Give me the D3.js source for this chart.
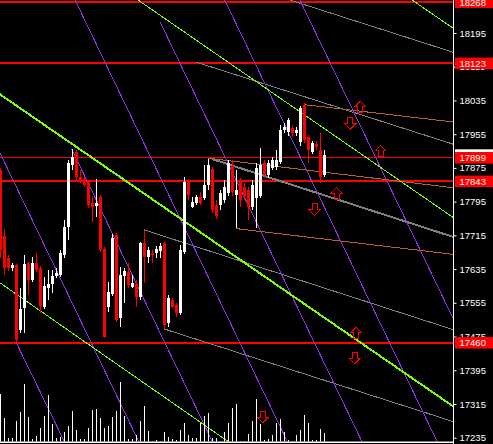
<!DOCTYPE html>
<html><head><meta charset="utf-8">
<script src="https://cdn.jsdelivr.net/npm/d3@7/dist/d3.min.js"></script>
<style>html,body{margin:0;padding:0;background:#000;overflow:hidden}svg{display:block}</style>
</head><body><svg id="c" width="493" height="444"></svg>
<script>
// ---- data (bar index = category) ----
const opens=[17870,17713,17661,17637,17644,17490,17542,17649,17609,17649,
17637,17545,17590,17599,17618,17621,17668,17735,17882,17912,
17853,17848,17841,17792,17784,17806,17682,17545,17576,17716,
17519,17618,17628,17592,17599,17569,17697,17663,17673,17673,
17678,17697,17507,17561,17550,17531,17675,17841,17782,17792,
17806,17804,17834,17872,17787,17787,17799,17815,17879,17811,
17841,17830,17822,17782,17803,17808,17887,17858,17875,17877,
17889,17965,17960,17970,17958,17936,18024,17948,17913,17932,
17917,17858];
const highs=[17875,17730,17668,17649,17647,17590,17668,17652,17663,17673,
17642,17616,17633,17633,17637,17680,17751,17894,17920,17917,
17870,17853,17846,17806,17848,17811,17687,17604,17718,17720,
17640,17637,17649,17621,17609,17699,17728,17687,17680,17690,
17697,17699,17573,17566,17554,17692,17853,17848,17806,17811,
17818,17882,17896,17877,17799,17822,17846,17894,17894,17870,
17851,17839,17830,17846,17887,17922,17894,17894,17901,17917,
17977,17981,17993,17977,17972,18022,18029,17953,17939,17939,
17958,17917];
const lows=[17661,17621,17630,17630,17459,17483,17483,17573,17604,17628,
17531,17540,17561,17578,17614,17616,17661,17704,17870,17846,
17839,17829,17780,17747,17758,17675,17471,17533,17571,17509,
17497,17554,17590,17590,17545,17561,17602,17649,17649,17661,
17661,17493,17497,17543,17521,17526,17671,17799,17780,17787,
17787,17799,17822,17768,17754,17775,17792,17808,17808,17732,
17782,17799,17751,17775,17732,17804,17851,17851,17870,17870,
17884,17958,17951,17948,17951,17927,17934,17887,17908,17917,
17839,17853];
const closes=[17680,17637,17637,17644,17467,17540,17647,17609,17649,17633,
17547,17595,17599,17618,17625,17673,17735,17886,17901,17853,
17844,17834,17787,17782,17792,17680,17474,17580,17708,17514,
17621,17630,17597,17602,17569,17697,17663,17680,17668,17682,
17690,17502,17566,17545,17531,17680,17841,17811,17794,17806,
17792,17834,17882,17775,17761,17815,17830,17886,17818,17822,
17799,17808,17782,17834,17875,17882,17858,17887,17894,17894,
17965,17972,17989,17958,17965,18017,17941,17917,17934,17925,
17853,17906];
const volumes=[1430,720,120,120,620,900,1730,740,80,180,
420,770,1400,530,120,130,290,470,920,350,
70,80,420,950,970,700,400,480,740,930,
1800,760,80,80,200,620,1070,330,30,50,
30,300,130,80,50,340,570,200,100,100,
570,770,850,100,100,20,300,570,1000,1130,
20,20,220,630,1280,520,50,70,200,570,
680,300,50,30,200,350,800,570,50,50,
380,270];
const tickValues=[18195,18115,18035,17955,17875,17795,17715,17635,17555,17475,17395,17315,17235];
const levelPrices=[18268,18123,17899,17843,17460];
// trend lines as [barIndex, price] points
const purpleLines=[
 [[4,17459],[16.0,17225]],
 [[-1.125,17930],[34.6,17225]],
 [[17.8,17920],[53.0,17225]],
 [[18.4,18278],[71.75,17225]],
 [[39.9,18221],[90.4,17225]],
 [[55.8,18278],[109.2,17225]],
 [[74.6,18278],[128,17225]]];
const greenLines=[
 [[-1.125,18056],[114.9,17298]],
 [[33.65,18278],[114.9,17746]],
 [[102.15,18278],[114.9,18195]],
 [[-1.125,17609],[57.05,17225]]];
const greyLines=[
 [[70.8,18278],[114.9,18144]],
 [[48.9,18126],[114.9,17926]],
 [[52.9,17896],[114.9,17706]],
 [[35.9,17728],[114.9,17486]],
 [[40.9,17493],[114.9,17268]]];
const orangeLines=[
 [[76,18012],[76,18025],[114.9,17982]],
 [[51.9,17898],[114.9,17826]],
 [[58.9,17739],[58.9,17731],[114.9,17668]]];
const arrowIdx=[89.9,87.4,95.0,84.0,78.5,88.95,88.55,65.6];
const arrowPrice=[18019,17981,17914,17814,17777,17483,17425,17285];
const arrowDir=["up","down","up","up","down","up","down","down"];

// ---- drawing ----
const W=493,H=444,PW=453,PH=441.5;
const svg=d3.select("#c");
svg.append("rect").attr("width",W).attr("height",H).attr("fill","#000");
const x=d3.scaleLinear().domain([0,113]).range([0.5,452.5]);
const y=d3.scaleLinear().domain([17235,18195]).range([437.7,33]);
const yv=d3.scaleLinear().domain([0,1800]).range([441.7,381.7]);

svg.append("clipPath").attr("id","pc").append("rect").attr("x",0).attr("y",0).attr("width",PW).attr("height",PH);
const g=svg.append("g").attr("clip-path","url(#pc)");
const line=d3.line().x(d=>x(d[0])).y(d=>y(d[1]));

// horizontal levels
g.selectAll(".lvl").data(levelPrices).join("line")
 .attr("x1",0).attr("x2",PW).attr("y1",d=>y(d)).attr("y2",d=>y(d))
 .attr("stroke","#ff0000").attr("stroke-width",d=>d===17899?1:2)
 .attr("shape-rendering","crispEdges");

function drawLines(arr,color,thickIdx){
 g.append("g").attr("shape-rendering","crispEdges").selectAll("path").data(arr).join("path")
  .attr("d",line).attr("fill","none").attr("stroke",color)
  .attr("stroke-width",(d,i)=>i===thickIdx?2:1);
}
drawLines(greyLines,"#808080",2);
drawLines(orangeLines,"#b8602f",-1);
drawLines(purpleLines,"#9030e8",-1);
drawLines(greenLines,"#7fff00",0);

// volume
const idx=d3.range(opens.length);
g.append("g").selectAll("rect").data(idx).join("rect")
 .attr("x",i=>x(i)-0.5).attr("width",1)
 .attr("y",i=>yv(volumes[i])).attr("height",i=>yv(0)-yv(volumes[i]))
 .attr("fill","#fff").attr("shape-rendering","crispEdges");

// candles
const cg=g.append("g").attr("shape-rendering","crispEdges");
const col=i=>closes[i]>=opens[i]?"#ffffff":"#ff0000";
cg.selectAll("rect.w").data(idx).join("rect")
 .attr("x",i=>x(i)-0.5).attr("width",1)
 .attr("y",i=>y(highs[i])).attr("height",i=>Math.max(1,y(lows[i])-y(highs[i])))
 .attr("fill",col);
cg.selectAll("rect.b").data(idx).join("rect")
 .attr("x",i=>x(i)-1.5).attr("width",3)
 .attr("y",i=>y(Math.max(opens[i],closes[i])))
 .attr("height",i=>Math.max(1,Math.abs(y(opens[i])-y(closes[i]))))
 .attr("fill",col);

// arrows
const upPts=[[0,-6],[5.5,-0.5],[2.5,-0.5],[2.5,5.5],[-2.5,5.5],[-2.5,-0.5],[-5.5,-0.5]];
g.append("g").attr("shape-rendering","crispEdges").selectAll("polygon").data(arrowIdx.map((d,i)=>i)).join("polygon")
 .attr("points",i=>upPts.map(p=>[x(arrowIdx[i])+p[0],y(arrowPrice[i])+(arrowDir[i]==="up"?p[1]:-p[1])].join(",")).join(" "))
 .attr("fill","none").attr("stroke","#ff0000").attr("stroke-width",1);

// frame
svg.append("line").attr("x1",453.5).attr("x2",453.5).attr("y1",0).attr("y2",H).attr("stroke","#fff");
svg.append("line").attr("x1",0).attr("x2",454).attr("y1",442.2).attr("y2",442.2).attr("stroke","#fff").attr("stroke-width",1.5);

// axis
const ax=svg.append("g").attr("transform","translate(453.5,0)")
 .call(d3.axisRight(y).tickValues(tickValues).tickSize(3).tickPadding(3).tickFormat(d3.format("d")));
ax.select(".domain").remove();
ax.selectAll("line").attr("stroke","#fff");
ax.selectAll("text").attr("fill","#fff").style("font-family","'Liberation Sans',Arial,sans-serif").style("font-size","9.5px");

// bid label (last close)
const last=closes[closes.length-1];
svg.append("rect").attr("x",455).attr("y",y(last)-5.5).attr("width",38).attr("height",11).attr("fill","#fff");
// level labels
const lg=svg.append("g").selectAll("g").data(levelPrices).join("g");
lg.append("rect").attr("x",455).attr("y",d=>y(d)-5.75).attr("width",38).attr("height",11.5).attr("fill","#ff0000");
lg.append("text").attr("x",459.5).attr("y",d=>y(d)).attr("dy","0.35em").text(d=>d)
 .attr("fill","#fff").style("font-family","'Liberation Sans',Arial,sans-serif").style("font-size","9.5px");
</script></body></html>
